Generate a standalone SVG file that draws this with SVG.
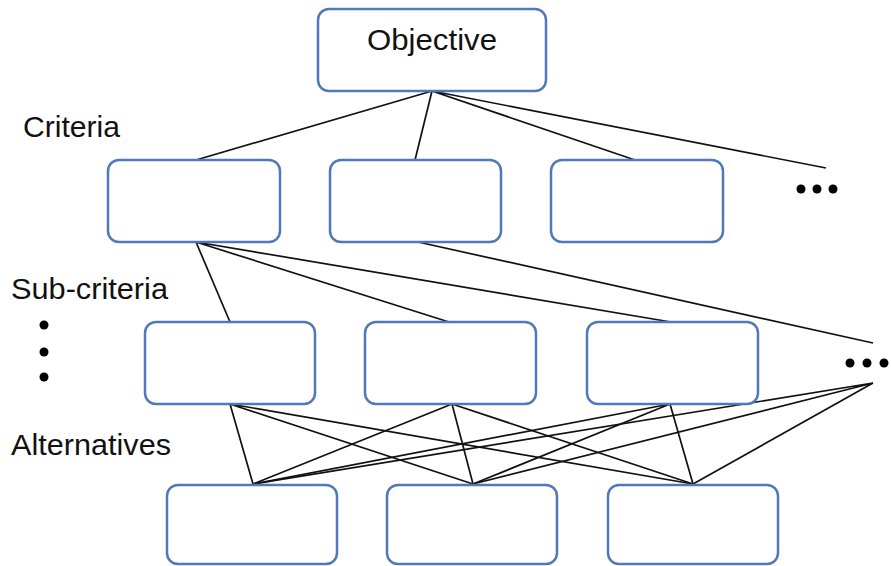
<svg xmlns="http://www.w3.org/2000/svg" width="891" height="566" viewBox="0 0 891 566">
<style>
.box{fill:#fff;stroke:#4f79b8;stroke-width:2.5}
.ln{stroke:#111;stroke-width:1.7;fill:none}
.lbl{font-family:"Liberation Sans",Arial,sans-serif;font-size:30px;fill:#111}
.dot{fill:#000}
</style>
<rect width="891" height="566" fill="#fff"/>
<g id="connectors">
<path class="ln" d="M432 91L196 160M432 91L415 160M432 91L635 160M432 91L826 168"/>
<path class="ln" d="M196 242L230 322M196 242L449 322M196 242L671 322M418 242L873 343"/>
<path class="ln" d="M230 404L253 484M230 404L473 484M230 404L693 484"/>
<path class="ln" d="M452 404L253 484M452 404L473 484M452 404L693 484"/>
<path class="ln" d="M670 404L253 484M670 404L473 484M670 404L693 484"/>
<path class="ln" d="M873 383L253 484M873 383L473 484M873 383L693 484"/>
</g>
<g id="objective"><rect class="box" x="318" y="9" width="228" height="82" rx="11"/><text class="lbl" x="367" y="50" textLength="130" lengthAdjust="spacingAndGlyphs">Objective</text></g>
<g id="label-criteria"><text class="lbl" x="23" y="137" textLength="97" lengthAdjust="spacingAndGlyphs">Criteria</text></g>
<g id="label-subcriteria"><text class="lbl" x="11" y="299" textLength="157" lengthAdjust="spacingAndGlyphs">Sub-criteria</text></g>
<g id="label-alternatives"><text class="lbl" x="11" y="455" textLength="160" lengthAdjust="spacingAndGlyphs">Alternatives</text></g>
<g id="c1"><rect class="box" x="108" y="160" width="172" height="82" rx="11"/></g>
<g id="c2"><rect class="box" x="330" y="160" width="171" height="82" rx="11"/></g>
<g id="c3"><rect class="box" x="551" y="160" width="172" height="82" rx="11"/></g>
<g id="c-more"><circle class="dot" cx="801" cy="189" r="4.5"/><circle class="dot" cx="817" cy="189" r="4.5"/><circle class="dot" cx="833" cy="189" r="4.5"/></g>
<g id="s1"><rect class="box" x="145" y="322" width="170" height="82" rx="11"/></g>
<g id="s2"><rect class="box" x="365" y="322" width="171" height="82" rx="11"/></g>
<g id="s3"><rect class="box" x="587" y="322" width="171" height="82" rx="11"/></g>
<g id="s-more"><circle class="dot" cx="850" cy="363" r="4.5"/><circle class="dot" cx="867" cy="363" r="4.5"/><circle class="dot" cx="884" cy="363" r="4.5"/></g>
<g id="s-vdots"><circle class="dot" cx="44" cy="325" r="4.5"/><circle class="dot" cx="44" cy="352" r="4.5"/><circle class="dot" cx="44" cy="377" r="4.5"/></g>
<g id="a1"><rect class="box" x="167" y="485" width="170" height="79" rx="11"/></g>
<g id="a2"><rect class="box" x="387" y="485" width="170" height="79" rx="11"/></g>
<g id="a3"><rect class="box" x="608" y="485" width="170" height="79" rx="11"/></g>
</svg>
